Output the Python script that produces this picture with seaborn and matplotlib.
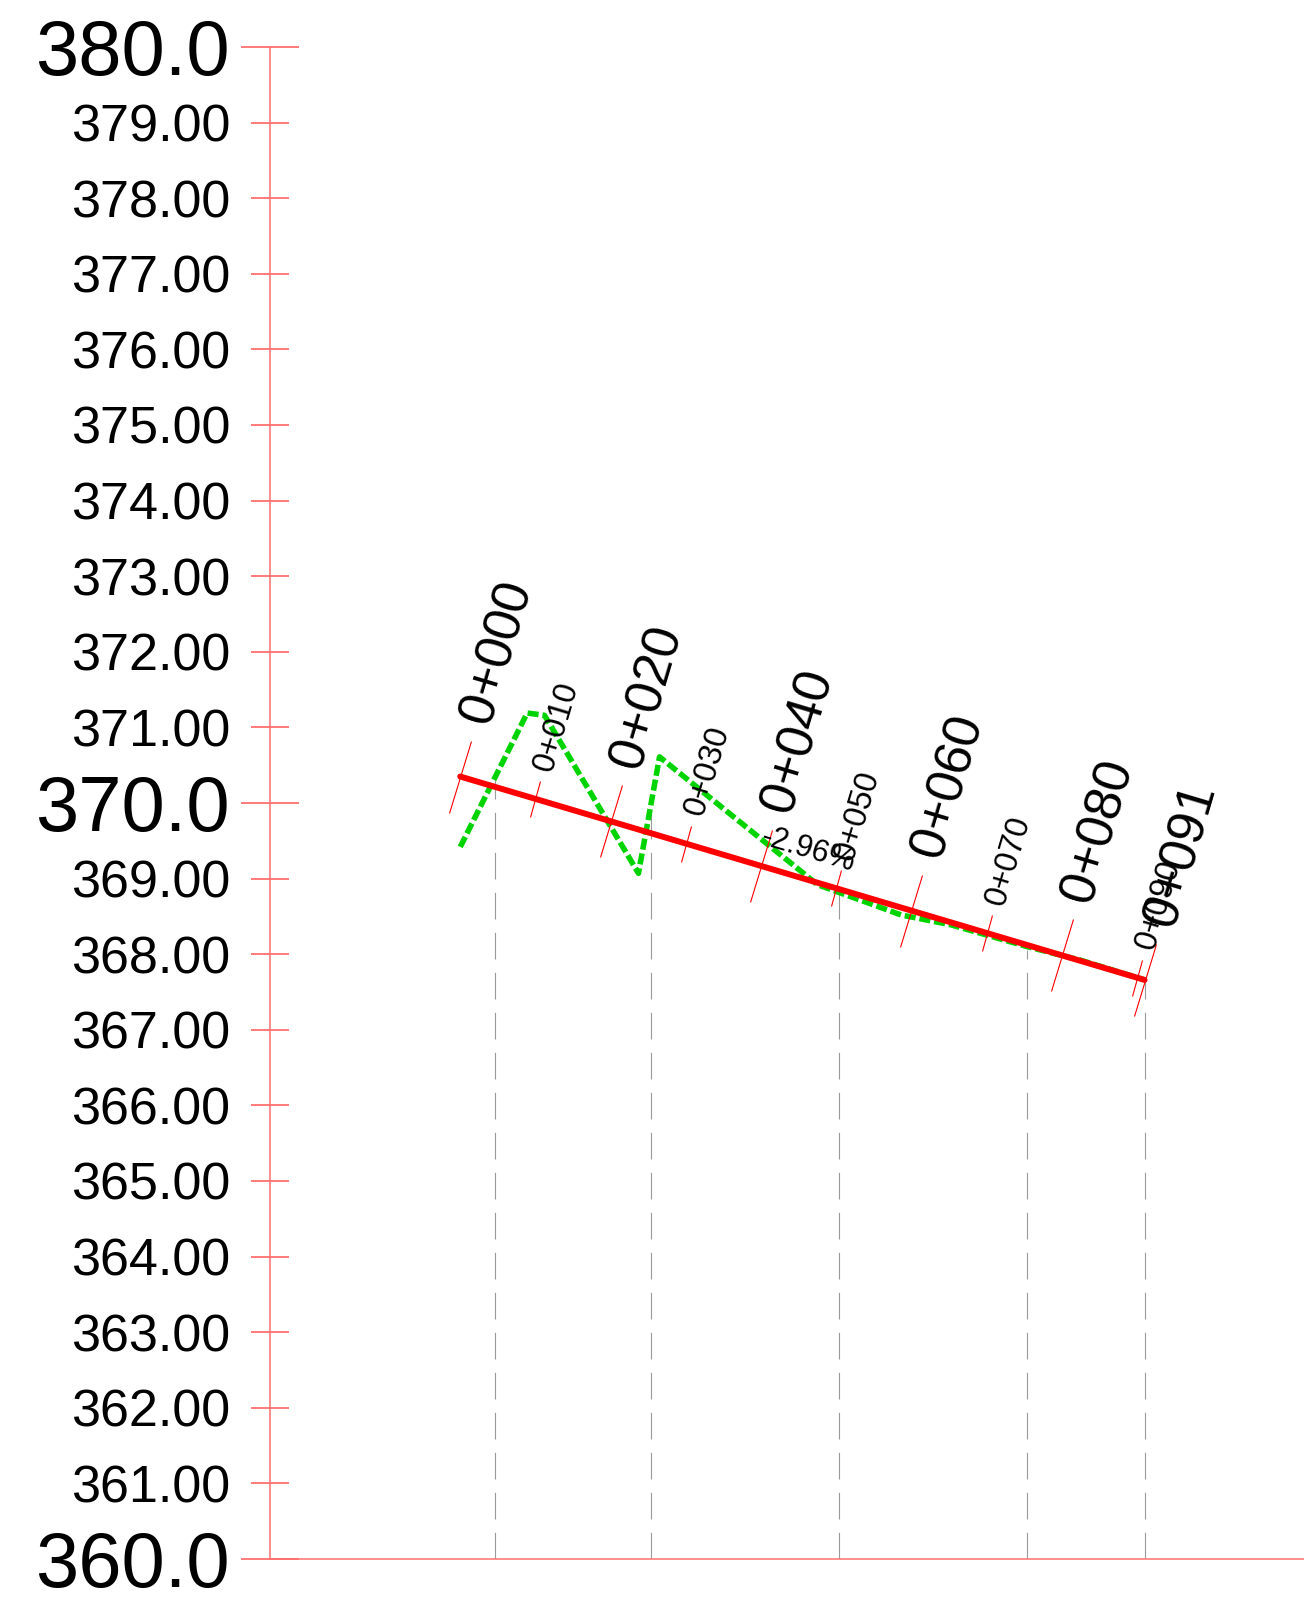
import numpy as np
import pandas as pd
import matplotlib
matplotlib.use('Agg')
import matplotlib.pyplot as plt
from matplotlib.markers import MarkerStyle
from matplotlib.transforms import Affine2D
from matplotlib.ticker import MultipleLocator, FormatStrFormatter
import seaborn as sns

# design grade line (station m, elevation m)
design_st = [0, 91]
design_el = [370.35, 367.66]
grade_label = '-2.96%'

# existing ground
ground_st = [0, 8.9, 11.2, 23.7, 26.5, 47.5, 54.2, 58.6, 65.2, 75.4, 82.5, 91]
ground_el = [369.42, 371.19, 371.16, 369.07, 370.61, 368.92, 368.68, 368.52, 368.39, 368.10, 367.92, 367.66]

# sample line positions and their top elevation
sample_st = [4.6, 25.3, 50.3, 75.3, 91.1]
sample_top = [370.33, 370.05, 368.88, 368.06, 367.68]

major_st = [0, 20, 40, 60, 80, 91]
major_lbl = ['0+000', '0+020', '0+040', '0+060', '0+080', '0+091']
minor_st = [10, 30, 50, 70, 90]
minor_lbl = ['0+010', '0+030', '0+050', '0+070', '0+090']

sns.set_style('white')
plt.rcParams['font.family'] = ['Liberation Sans', 'DejaVu Sans']

W, H, DPI = 1304, 1605, 100
fig = plt.figure(figsize=(W / DPI, H / DPI), dpi=DPI)
ax = fig.add_axes([270 / W, (H - 1559) / H, 1 - 270 / W, (1559 - 47) / H])
ax.set_xlim(-25.3, 112.2)
ax.set_ylim(360, 380)

axis_red = '#ff6f6f'
for s in ['top', 'right']:
    ax.spines[s].set_visible(False)
for s in ['left', 'bottom']:
    ax.spines[s].set_color(axis_red)
    ax.spines[s].set_linewidth(1.1)

ax.yaxis.set_major_locator(MultipleLocator(10))
ax.yaxis.set_minor_locator(MultipleLocator(1))
ax.yaxis.set_major_formatter(FormatStrFormatter('%.1f'))
ax.yaxis.set_minor_formatter(FormatStrFormatter('%.2f'))
ax.tick_params(axis='y', which='both', left=True, right=False)
ax.tick_params(axis='y', which='major', direction='inout', length=41.8, width=1.3,
               color=axis_red, labelsize=56, pad=8, labelcolor='black')
ax.tick_params(axis='y', which='minor', direction='inout', length=27.4, width=1.3,
               color=axis_red, labelsize=37.5, pad=15, labelcolor='black')
ax.set_xticks([])

# sample lines
ax.vlines(sample_st, 360, sample_top, colors='#9a9a9a', linewidth=0.8,
          linestyles=(0, (24, 12)), zorder=1)

ground = pd.DataFrame({'station': ground_st, 'elev': ground_el})
design = pd.DataFrame({'station': design_st, 'elev': design_el})
sns.lineplot(data=ground, x='station', y='elev', color='#00d400', linewidth=4.0,
             linestyle=(0, (2.0, 0.7)), estimator=None, ax=ax, zorder=3)
sns.lineplot(data=design, x='station', y='elev', color='#ff0000', linewidth=4.3,
             estimator=None, ax=ax, zorder=4)
ax.set_xlabel('')
ax.set_ylabel('')

# screen angle of the grade line
p0 = ax.transData.transform((design_st[0], design_el[0]))
p1 = ax.transData.transform((design_st[1], design_el[1]))
ang = np.degrees(np.arctan2(p1[1] - p0[1], p1[0] - p0[0]))
perp = np.radians(ang + 90)
ux, uy = np.cos(perp), np.sin(perp)

def station_marks(sts, lbls, length_pt, off_pt, fsize):
    el = np.interp(sts, design_st, design_el)
    mk = MarkerStyle('|', transform=Affine2D().rotate_deg(ang))
    ax.plot(sts, el, linestyle='none', marker=mk, markersize=length_pt,
            markeredgecolor='#ff0000', markeredgewidth=0.8, zorder=5)
    for s, e, t in zip(sts, el, lbls):
        ax.annotate(t, xy=(s, e), xytext=(ux * off_pt, uy * off_pt),
                    textcoords='offset points', rotation=ang + 90,
                    rotation_mode='anchor', ha='left', va='center',
                    fontsize=fsize, color='black', zorder=6)

station_marks(major_st, major_lbl, 54, 41, 37.5)
station_marks(minor_st, minor_lbl, 27.5, 21.5, 23.5)

ax.text(46.3, 369.38, grade_label, rotation=ang, rotation_mode='anchor',
        ha='center', va='center', fontsize=22, color='black', zorder=6)

fig.savefig('out.png', dpi=DPI)
